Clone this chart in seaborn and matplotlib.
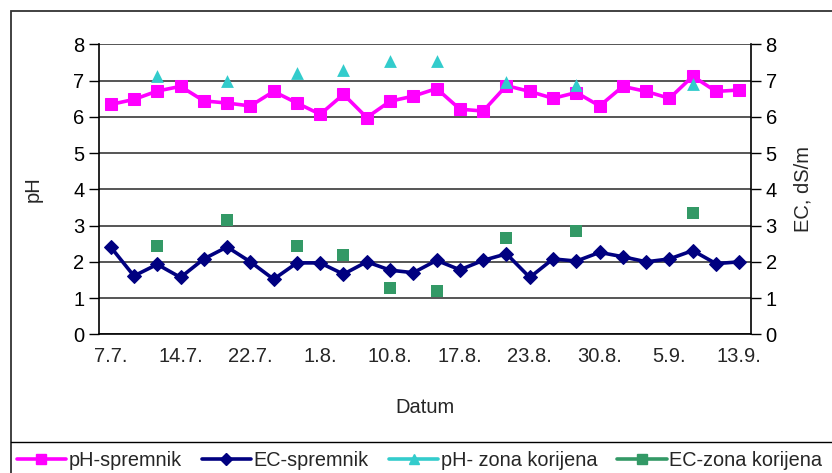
import matplotlib
matplotlib.use("Agg")
import matplotlib.pyplot as plt
from matplotlib.lines import Line2D
from matplotlib.patches import Rectangle
import numpy as np
import pandas as pd
import seaborn as sns

# 28 measurement days, a label on every third one
TICK_LABELS = ["7.7.", "14.7.", "22.7.", "1.8.", "10.8.", "17.8.",
               "23.8.", "30.8.", "5.9.", "13.9."]
TICK_POS = [0, 3, 6, 9, 12, 15, 18, 21, 24, 27]

PH_SPREMNIK = [6.34, 6.48, 6.71, 6.84, 6.44, 6.38, 6.30, 6.70, 6.38, 6.07,
               6.62, 5.98, 6.43, 6.57, 6.78, 6.21, 6.16, 6.86, 6.70, 6.51,
               6.67, 6.30, 6.84, 6.70, 6.51, 7.12, 6.70, 6.74]
EC_SPREMNIK = [2.41, 1.61, 1.93, 1.57, 2.08, 2.41, 2.00, 1.52, 1.97, 1.97,
               1.66, 2.00, 1.77, 1.70, 2.04, 1.78, 2.04, 2.22, 1.57, 2.08,
               2.02, 2.26, 2.14, 2.00, 2.08, 2.31, 1.95, 2.00]
ZONA_IDX = [2, 5, 8, 10, 12, 14, 17, 20, 25]
PH_ZONA = [7.13, 6.99, 7.21, 7.30, 7.53, 7.53, 6.97, 6.88, 6.90]
EC_ZONA = [2.45, 3.15, 2.45, 2.20, 1.28, 1.20, 2.66, 2.86, 3.35]

MAGENTA = "#FF00FF"
NAVY = "#000080"
CYAN = "#33CCCC"
GREEN = "#339966"
FS = 14.5

sns.set_theme(style="white")
plt.rcParams["font.family"] = ["Liberation Sans", "DejaVu Sans"]

days = np.arange(len(PH_SPREMNIK))
tank = pd.DataFrame({"dan": days, "pH": PH_SPREMNIK, "EC": EC_SPREMNIK})
zona = pd.DataFrame({"dan": ZONA_IDX, "pH": PH_ZONA, "EC": EC_ZONA})

fig = plt.figure(figsize=(8.32, 4.73), dpi=100)
ax = fig.add_axes([0.119, 0.2932, 0.7836, 0.6131])
ax2 = ax.twinx()

sns.lineplot(data=tank, x="dan", y="pH", ax=ax, color=MAGENTA, lw=2.6,
             marker="s", markersize=8, markeredgecolor=MAGENTA, zorder=2)
sns.scatterplot(data=zona, x="dan", y="pH", ax=ax, color=CYAN, marker="^",
                s=85, edgecolor=CYAN, linewidth=0, zorder=4)
sns.lineplot(data=tank, x="dan", y="EC", ax=ax2, color=NAVY, lw=2.6,
             marker="D", markersize=7, markeredgecolor=NAVY, zorder=2)
sns.scatterplot(data=zona, x="dan", y="EC", ax=ax2, color=GREEN, marker="s",
                s=80, edgecolor=GREEN, linewidth=0, zorder=4)

for a in (ax, ax2):
    a.set_xlim(-0.5, len(days) - 0.5)
    a.set_ylim(0, 8)
    a.set_yticks(range(0, 9))
    a.tick_params(axis="y", labelsize=FS, length=7, width=1, colors="black",
                  direction="out")
    for s in a.spines.values():
        s.set_visible(False)

ax.yaxis.grid(True, color="#555555", lw=1.4)
ax.set_axisbelow(True)
ax.spines["left"].set_visible(True)
ax.spines["bottom"].set_visible(True)
ax2.spines["right"].set_visible(True)
for s in (ax.spines["left"], ax.spines["bottom"], ax2.spines["right"]):
    s.set_color("black")
    s.set_linewidth(1.2)

ax.set_xticks(TICK_POS)
ax.set_xticklabels(TICK_LABELS)
ax.set_xticks(np.arange(-0.5, len(days), 1), minor=True)
ax.tick_params(axis="x", which="major", length=0, labelsize=FS, pad=9)
ax.tick_params(axis="x", which="minor", length=10, width=1, direction="inout",
               color="black")

ax.set_xlabel("Datum", fontsize=FS, labelpad=23)
ax.set_ylabel("pH", fontsize=FS, labelpad=22)
ax2.set_ylabel("EC, dS/m", fontsize=FS, labelpad=12)

# outer chart frame and legend box
fig.patches.append(Rectangle((11 / 832, -0.1), 1.2, 1.1 - 11 / 473,
                             transform=fig.transFigure, fill=False,
                             edgecolor="#333333", lw=1.3))
fig.add_artist(Line2D([11 / 832, 1.0], [1 - 442 / 473] * 2,
                      transform=fig.transFigure, color="black", lw=1.0))

handles = [
    Line2D([], [], color=MAGENTA, lw=2.6, marker="s", markersize=7),
    Line2D([], [], color=NAVY, lw=2.6, marker="D", markersize=6),
    Line2D([], [], color=CYAN, lw=2.6, marker="^", markersize=7),
    Line2D([], [], color=GREEN, lw=2.6, marker="s", markersize=7),
]
labels = ["pH-spremnik", "EC-spremnik", "pH- zona korijena", "EC-zona korijena"]
fig.legend(handles, labels, loc="center left", bbox_to_anchor=(0.02, 0.026),
           ncol=4, frameon=False, fontsize=14.3, handlelength=2.5,
           handletextpad=0.12, columnspacing=1.0, borderaxespad=0,
           borderpad=0)

fig.savefig("out.png", dpi=100)
